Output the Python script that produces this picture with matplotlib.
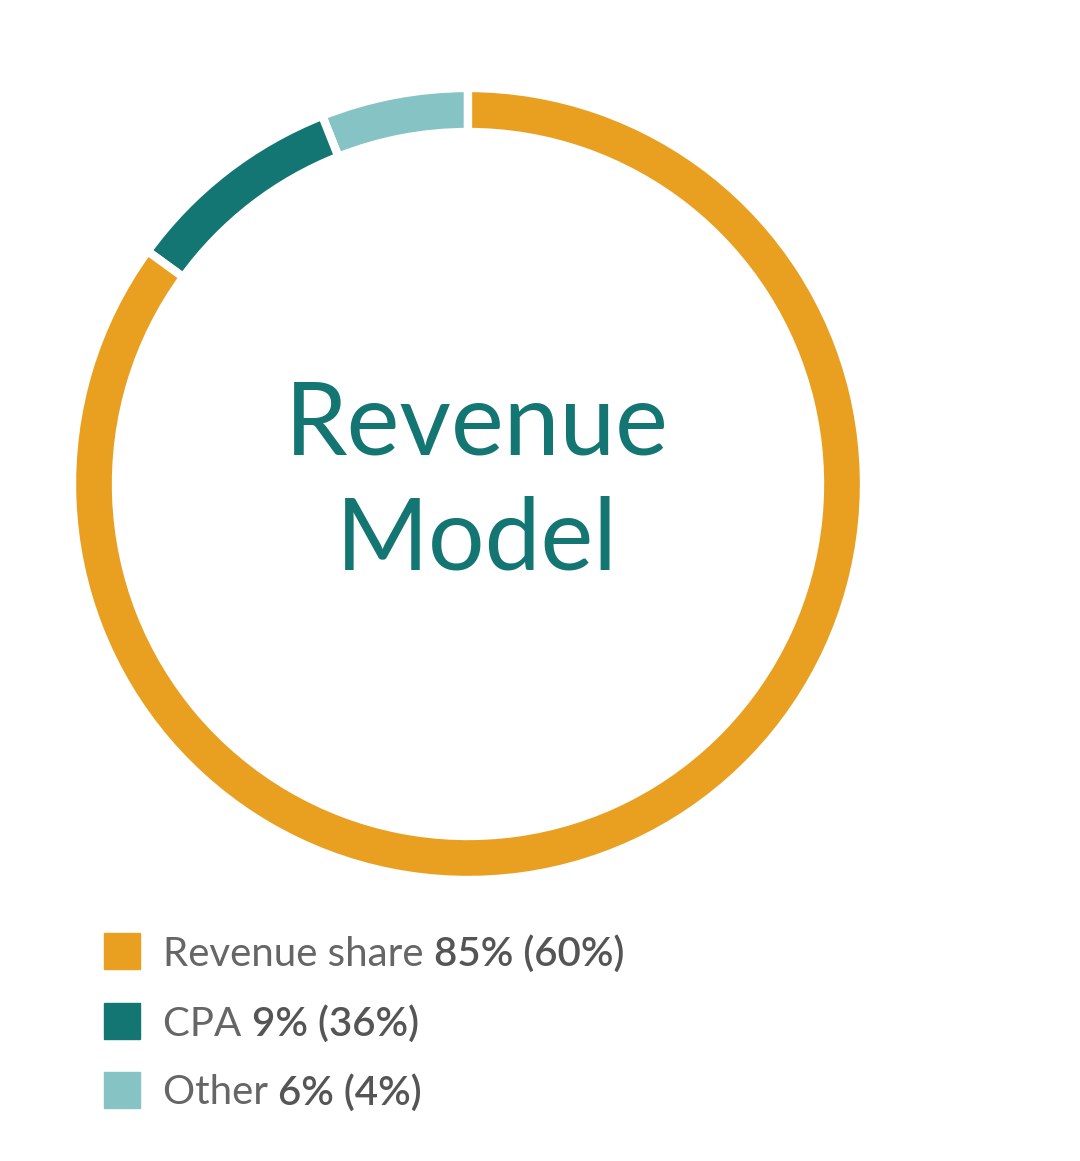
import matplotlib.pyplot as plt
from matplotlib.patches import Rectangle

labels = ['Revenue share', 'CPA', 'Other']
shares = [85, 9, 6]
prev_shares = [60, 36, 4]
colors = ['#E9A021', '#147672', '#86C3C5']
title_lines = ['Revenue', 'Model']

W, H = 1080, 1161
fig = plt.figure(figsize=(W / 100, H / 100), dpi=100)
ax = fig.add_axes([0, 0, 1, 1])
ax.set_xlim(0, W)
ax.set_ylim(0, H)
ax.set_aspect('equal')
ax.axis('off')

# donut: start at top, other/cpa go counter-clockwise from 12 o'clock
ax.pie(shares[::-1], colors=colors[::-1], startangle=90, counterclock=True,
       center=(468, H - 484), radius=396,
       wedgeprops=dict(width=44, edgecolor='white', linewidth=6))
ax.set_xlim(0, W)
ax.set_ylim(0, H)

ax.text(477, H - 426, title_lines[0], ha='center', va='center',
        fontsize=72, color='#147672', family='Lato')
ax.text(477, H - 541, title_lines[1], ha='center', va='center',
        fontsize=72, color='#147672', family='Lato')

fig.canvas.draw()
renderer = fig.canvas.get_renderer()
ys = [954, 1024, 1093]
for lab, s, p, c, y in zip(labels, shares, prev_shares, colors, ys):
    ax.add_patch(Rectangle((104, H - y + 3 - 18), 36, 36, color=c))
    t = ax.text(163, H - y, lab + ' ', ha='left', va='center', fontsize=29,
                color='#666666', family='Lato', weight='normal')
    bb = t.get_window_extent(renderer)
    ax.text(bb.x1, H - y, f'{s}% ({p}%)', ha='left', va='center', fontsize=29,
            color='#555555', family='Lato', weight=600)

fig.savefig('out.png', dpi=100, facecolor='white')
